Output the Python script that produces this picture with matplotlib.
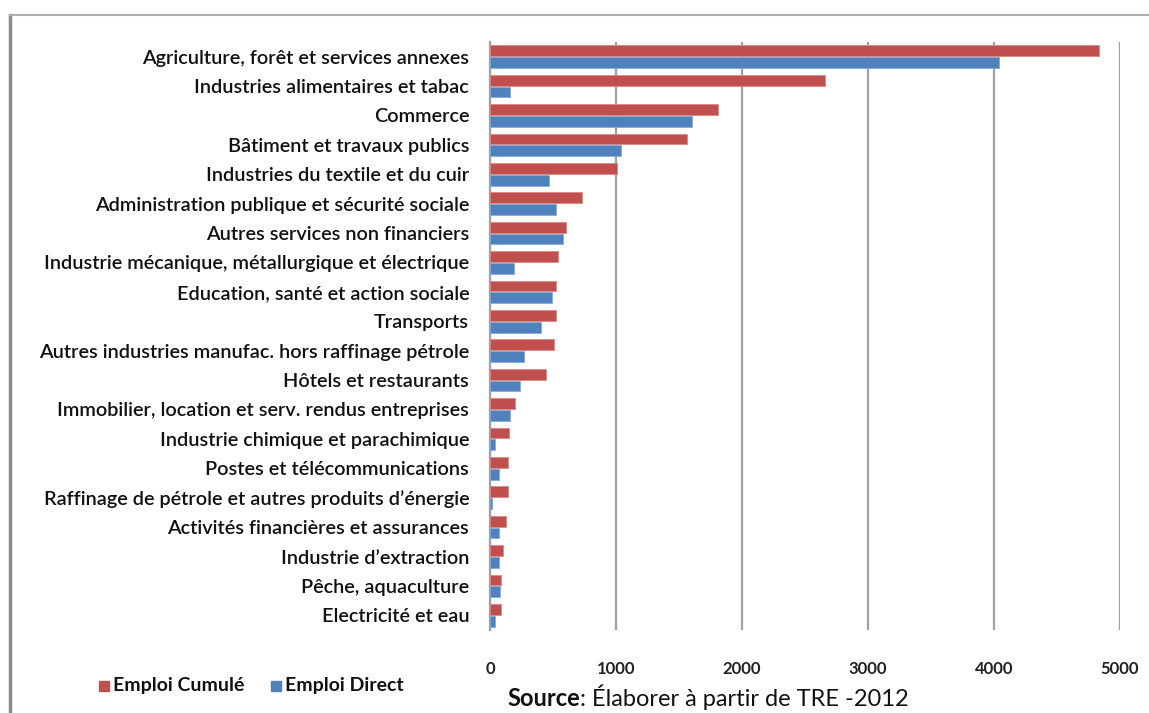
import numpy as np
import matplotlib
matplotlib.use('Agg')
import matplotlib.pyplot as plt
from matplotlib.lines import Line2D
from matplotlib.patches import Rectangle

plt.rcParams['font.family'] = ['Lato', 'DejaVu Sans']

secteurs = [
    'Agriculture, forêt et services annexes',
    'Industries alimentaires et tabac',
    'Commerce',
    'Bâtiment et travaux publics',
    'Industries du textile et du cuir',
    'Administration publique et sécurité sociale',
    'Autres services non financiers',
    'Industrie mécanique, métallurgique et électrique',
    'Education, santé et action sociale',
    'Transports',
    'Autres industries manufac. hors raffinage pétrole',
    'Hôtels et restaurants',
    'Immobilier, location et serv. rendus entreprises',
    'Industrie chimique et parachimique',
    'Postes et télécommunications',
    'Raffinage de pétrole et autres produits d’énergie',
    'Activités financières et assurances',
    'Industrie d’extraction',
    'Pêche, aquaculture',
    'Electricité et eau',
]
emploi_cumule = [4830, 2660, 1810, 1565, 1005, 733, 600, 538, 527, 527,
                 506, 445, 200, 150, 140, 140, 128, 106, 88, 88]
emploi_direct = [4040, 156, 1603, 1042, 466, 527, 578, 190, 496, 405,
                 271, 241, 158, 36, 68, 15, 68, 68, 78, 36]
graduations = [0, 1000, 2000, 3000, 4000, 5000]

rouge = '#C0504D'
bleu = '#4F81BD'

W, H = 1149, 713
fig = plt.figure(figsize=(W / 100, H / 100), dpi=100)
ax = fig.add_axes([490 / W, 83 / H, 630 / W, 588 / H])

y = np.arange(len(secteurs))
h = 0.37
ax.barh(y - 0.2, emploi_cumule, height=h, color=rouge, edgecolor='#D88a88', linewidth=0.6, zorder=3)
ax.barh(y + 0.2, emploi_direct, height=h, color=bleu, edgecolor='#8aaad4', linewidth=0.6, zorder=3)

ax.set_xlim(0, 5000)
ax.set_ylim(len(secteurs) - 0.5, -0.5)
ax.set_xticks(graduations)
ax.set_xticklabels([str(g) for g in graduations], fontsize=12, fontweight='bold', color='#222222')
ax.set_yticks(y)
ax.set_yticklabels(secteurs, fontsize=14.3, fontweight='semibold', color='#111111')
ax.tick_params(axis='x', length=0, pad=22)
ax.tick_params(axis='y', length=0, pad=15)
ax.grid(axis='x', color='#a0a0a0', linewidth=1.6, zorder=0)
for s in ['top', 'right', 'bottom']:
    ax.spines[s].set_visible(False)
ax.spines['left'].set_color('#a0a0a0')
ax.spines['left'].set_linewidth(1.6)

# cadre gris en haut et à gauche
fig.add_artist(Line2D([10 / W, 10 / W], [0, 698 / H], color='#8c8c8c', linewidth=2.5))
fig.add_artist(Line2D([10 / W, 1], [698 / H, 698 / H], color='#b0b0b0', linewidth=1.5))

# légende
fig.add_artist(Rectangle((99 / W, 22 / H), 10 / W, 10 / H, color=rouge))
fig.text(113 / W, 27 / H, 'Emploi Cumulé', fontsize=14, fontweight='bold', va='center', color='#111111')
fig.add_artist(Rectangle((271 / W, 22 / H), 10 / W, 10 / H, color=bleu))
fig.text(285 / W, 27 / H, 'Emploi Direct', fontsize=14, fontweight='bold', va='center', color='#111111')

# source : "Source" en gras puis la suite sur la même ligne de base
src = fig.text(507 / W, 7 / H, 'Source', fontsize=17, fontweight='bold', va='baseline', color='#111111')
fig.canvas.draw()
x_fin = src.get_window_extent().x1
fig.text(x_fin / W, 7 / H, ': Élaborer à partir de TRE -2012', fontsize=17, va='baseline', color='#111111')

fig.savefig('out.png', dpi=100)
